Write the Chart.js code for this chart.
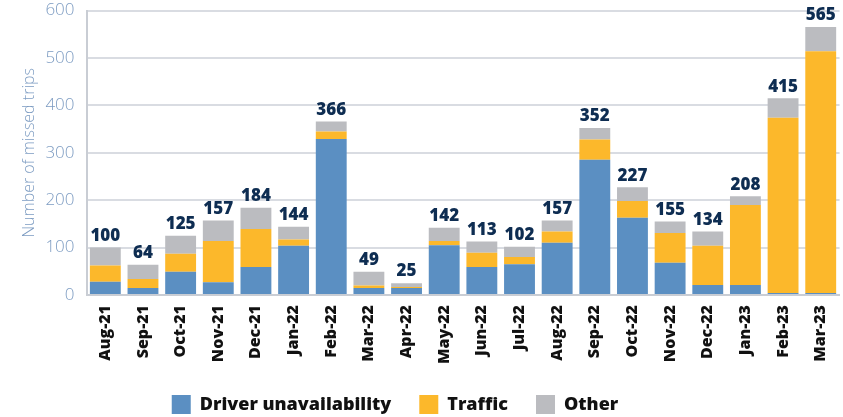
<!DOCTYPE html>
<html>
<head>
<meta charset="utf-8">
<script src="https://cdn.jsdelivr.net/npm/chart.js@4"></script>
<style>
html,body{margin:0;padding:0;background:#fff;overflow:hidden;}
#wrap{width:850px;height:417px;position:relative;}
</style>
</head>
<body>
<div id="wrap"><canvas id="c"></canvas></div>
<script>
const months = ["Aug-21","Sep-21","Oct-21","Nov-21","Dec-21","Jan-22","Feb-22","Mar-22","Apr-22","May-22","Jun-22","Jul-22","Aug-22","Sep-22","Oct-22","Nov-22","Dec-22","Jan-23","Feb-23","Mar-23"];
const driverUnavailability = [28,15,49,27,59,104,329,15,15,105,59,65,110,285,163,68,21,21,4,4];
const traffic = [34,19,38,87,80,13,16,5,2,9,30,15,24,43,35,63,83,169,370,510];
const other = [38,30,38,43,45,27,21,29,8,28,24,22,23,24,29,24,30,18,41,51];
const yTicks = [0,100,200,300,400,500,600];

const totals = months.map((m,i)=>driverUnavailability[i]+traffic[i]+other[i]);

const totalLabels = {
  id:'totalLabels',
  afterLayout(chart){
    const lg = chart.legend;
    const d = 395 - (lg.left + lg.right)/2;
    lg.left += d; lg.right += d;
  },
  afterDatasetsDraw(chart){
    const ctx = chart.ctx;
    const x = chart.scales.x, y = chart.scales.y;
    ctx.save();
    ctx.font = '800 17px "Open Sans"';
    ctx.fillStyle = '#0e2d52';
    ctx.textAlign = 'center';
    ctx.textBaseline = 'bottom';
    totals.forEach((t,i)=>{
      ctx.fillText(String(t), x.getPixelForValue(i), y.getPixelForValue(t)-3);
    });
    ctx.restore();
  }
};

const tickColor = '#7d9cc2';
new Chart(document.getElementById('c'), {
  type:'bar',
  data:{
    labels: months,
    datasets:[
      {label:'Driver unavailability', data:driverUnavailability, backgroundColor:'#5b8fc2'},
      {label:'Traffic', data:traffic, backgroundColor:'#fcb82b'},
      {label:'Other', data:other, backgroundColor:'#bbbcc0'}
    ]
  },
  options:{
    responsive:true,
    maintainAspectRatio:false,
    animation:false,
    layout:{padding:{top:10.5,right:3,left:20,bottom:-7}},
    datasets:{bar:{barPercentage:0.82,categoryPercentage:1}},
    plugins:{
      tooltip:{enabled:false},
      legend:{
        position:'bottom',
        labels:{
          boxWidth:19, boxHeight:19, padding:28,
          color:'#111',
          font:{family:'"Open Sans"', size:18, weight:800}
        }
      }
    },
    scales:{
      x:{
        stacked:true,
        afterFit(s){ s.height = 72; },
        grid:{display:false, drawTicks:false},
        border:{color:'#c9cdd4', width:2},
        ticks:{
          maxRotation:90, minRotation:90, autoSkip:false, padding:10,
          color:'#111',
          font:{family:'"Open Sans"', size:16, weight:800}
        }
      },
      y:{
        stacked:true,
        min:0, max:600,
        afterBuildTicks(s){ s.ticks = yTicks.map(v=>({value:v})); },
        afterFit(s){ s.width = 66.5; s.paddingTop = 0; s.paddingBottom = 0; },
        grid:{color:'#d9dce2', lineWidth:2, drawTicks:false},
        border:{color:'#c9cdd4', width:2},
        ticks:{
          padding:12,
          color:tickColor,
          font:{family:'"Open Sans"', size:17, weight:300}
        },
        title:{
          display:true,
          text:'Number of missed trips',
          color:tickColor,
          padding:{top:0,bottom:0},
          font:{family:'"Open Sans"', size:16, weight:300}
        }
      }
    }
  },
  plugins:[totalLabels]
});
</script>
</body>
</html>
